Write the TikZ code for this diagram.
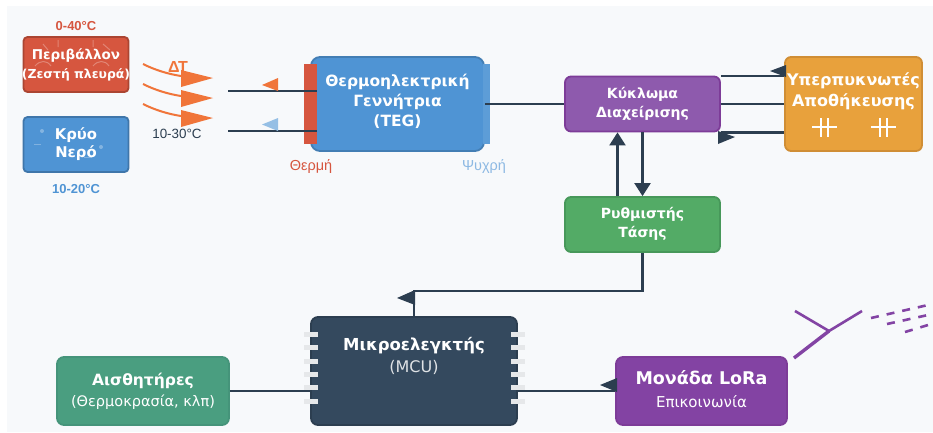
\documentclass[tikz,border=0pt]{standalone}
\usepackage{fontspec}
\setmainfont{DejaVu Sans}
\newfontfamily\plainfont{Liberation Sans}
\usetikzlibrary{positioning,arrows.meta,calc}

\definecolor{wire}{HTML}{2C3E50}
\definecolor{paper}{HTML}{F7F9FB}
\definecolor{heat}{HTML}{F0753A}
\definecolor{hotred}{HTML}{D6563F}
\definecolor{coldblue}{HTML}{4F94D4}
\definecolor{mgmtfill}{HTML}{8E5AAD}
\definecolor{mgmtedge}{HTML}{7D3C98}
\definecolor{superfill}{HTML}{E8A13C}
\definecolor{superedge}{HTML}{D08E35}
\definecolor{regfill}{HTML}{53AB66}
\definecolor{regedge}{HTML}{47985A}
\definecolor{mcufill}{HTML}{34495E}
\definecolor{sensfill}{HTML}{4A9E80}
\definecolor{sensedge}{HTML}{45947A}
\definecolor{lorafill}{HTML}{8343A3}
\definecolor{antenna}{HTML}{8344A4}

\tikzset{
    block/.style n args={3}{draw=#2, fill=#1, line width=1.8pt, rounded corners=#3,
        align=center, text=white, inner sep=0pt},
    bsize/.style n args={2}{minimum width=#1, minimum height=#2},
    wireline/.style={draw=wire, line width=2.2pt},
    bigarrow/.style={wireline, -{Triangle[length=13pt,width=16pt]}},
    tiptri/.style={fill=wire},
    heatline/.style={draw=heat, line width=2pt},
    pin/.style={fill=wire!12!white, minimum width=14pt, minimum height=5pt, inner sep=0pt},
    templabel/.style={font=\plainfont\bfseries\fontsize{13}{13}\selectfont},
    sidelabel/.style={font=\plainfont\fontsize{14.5}{14.5}\selectfont},
    capline/.style={draw=white, line width=2pt},
    faint/.style={draw=white, opacity=.28, line width=1pt},
    antline/.style={draw=antenna, line width=2.6pt},
    waves/.style={antline, dash pattern=on 8pt off 8pt}
}

\begin{document}
\begin{tikzpicture}[x=1pt,y=-1pt]
    \useasboundingbox (0,0) rectangle (933,432);
    \fill[paper] (7,6) rectangle (933,432);

    %% Heat sources
    \node[block={hotred}{hotred!80!black}{4pt}, bsize={105pt}{55pt},
        font=\bfseries\fontsize{13.5}{19}\selectfont] (env) at (76,64.5)
        {Περιβάλλον\\\makebox[95pt][c]{\fontsize{12.4}{19}\selectfont (Ζεστή πλευρά)}\\[-17pt]{}};
    \node[block={coldblue}{coldblue!80!black}{4pt}, bsize={105pt}{55pt},
        font=\bfseries\fontsize{14.8}{18}\selectfont] (cold) at (76,144.5)
        {Κρύο\\Νερό\\[-14pt]{}};
    \node[templabel, text=hotred, above=2pt of env] (envtemp) {0-40°C};
    \node[templabel, text=coldblue, below=8pt of cold] (coldtemp) {10-20°C};

    \draw[faint] (43,44) -- (48,50) (58,40) -- (58,47) (93,40) -- (93,47) (103,44) -- (110,50);
    \draw[faint] (35,66) .. controls (40,60) and (47,60) .. (51,66);
    \draw[faint] (93,66) .. controls (98,60) and (105,60) .. (109,66);
    \fill[white, opacity=.3] (42,131) circle (2pt) (101,147) circle (2pt) (60,150) circle (2pt);
    \draw[faint] (34,144) -- (41,144) (58,152) -- (65,152) (84,157) -- (92,157);

    %% Heat flow
    \foreach \yy in {0,20,40} {
        \draw[heatline] (143,64+\yy) .. controls (155,70+\yy) and (168,74+\yy) .. (181,76+\yy);
        \fill[heat] (181,70+\yy) -- (213,78+\yy) -- (181,87+\yy) -- cycle;
    }
    \node[font=\plainfont\bfseries\fontsize{16}{16}\selectfont, text=heat] (delta) at (178,67) {ΔΤ};
    \node[sidelabel, font=\plainfont\fontsize{13.4}{13.4}\selectfont, text=wire] (gradient) at (177,134) {10-30°C};

    %% Generator
    \fill[coldblue!92!white] (482,64) rectangle (490,144);
    \node[block={coldblue}{coldblue!85!black}{9pt}, bsize={173pt}{94pt},
        font=\bfseries\fontsize{15.5}{20}\selectfont] (teg) at (397.5,104)
        {Θερμοηλεκτρική\\Γεννήτρια\\(TEG)\\[-12.5pt]{}};
    \fill[coldblue!92!white] (483,64) rectangle (490,144);
    \node[fill=hotred, minimum width=13pt, minimum height=80pt, inner sep=0pt] (hotside) at (310.5,104) {};
    \node[sidelabel, text=hotred] (hotlabel) at (311,167) {Θερμή};
    \node[sidelabel, text=coldblue!65!white] (coldlabel) at (484,167) {Ψυχρή};

    \coordinate (hotin) at (228,91);
    \coordinate (coldin) at (228,131);
    \draw[wireline] (hotin) -- (hotin -| hotside.east);
    \draw[wireline] (coldin) -- (coldin -| hotside.east);
    \fill[heat] (262,85) -- (278,78) -- (278,91) -- cycle;
    \fill[coldblue!60!white] (262,124.5) -- (278,118) -- (278,131) -- cycle;

    %% Power path
    \node[block={mgmtfill}{mgmtedge}{6pt}, bsize={155pt}{55pt},
        font=\bfseries\fontsize{14}{18.5}\selectfont] (mgmt) at (642.5,104)
        {Κύκλωμα\\Διαχείρισης\\[-15pt]{}};
    \node[block={superfill}{superedge}{6pt}, bsize={137pt}{94pt},
        font=\bfseries\fontsize{16}{21}\selectfont] (super) at (853.5,104)
        {Υπερπυκνωτές\\Αποθήκευσης\\[8pt]{}};
    \node[block={regfill}{regedge}{6pt}, bsize={155pt}{55pt},
        font=\bfseries\fontsize{14}{19}\selectfont] (reg) at (642.5,224.5)
        {Ρυθμιστής\\Τάσης\\[-15pt]{}};

    \draw[wireline] (teg.east) -- (mgmt.west);
    \draw[wireline] (mgmt.east) -- (super.west);
    \draw[wireline] (mgmt.north east) -- (super.west |- mgmt.north east);
    \draw[wireline] (mgmt.south east) -- (super.west |- mgmt.south east);
    \fill[tiptri] (770,71) -- (786,65) -- (786,77) -- cycle;
    \fill[tiptri] (718,131) -- (735,137) -- (718,144) -- cycle;
    \draw[bigarrow] ([xshift=-25pt]reg.north) -- ([xshift=-25pt]mgmt.south);
    \draw[bigarrow] (mgmt.south) -- (reg.north);

    %% Capacitors
    \foreach \xx in {812,871} {
        \draw[capline] (\xx,127) -- (\xx+25,127);
        \draw[capline] (\xx+9,118) -- (\xx+9,137) (\xx+16,118) -- (\xx+16,137);
    }

    %% Bottom row
    \node[block={mcufill}{wire}{7pt}, bsize={206pt}{108pt}] (mcu) at (414,371) {};
    \foreach \yy in {334,347,361,374,387,401} {
        \node[pin] (pinl\yy) at (311,\yy) {};
        \node[pin] (pinr\yy) at (517.5,\yy) {};
    }
    \node[text=white, font=\bfseries\fontsize{16.5}{16.5}\selectfont] (mcutitle) at (414,346) {Μικροελεγκτής};
    \node[text=white!85!wire, font=\fontsize{16}{16}\selectfont] (mcusub) at (414,367) {(MCU)};

    \node[block={sensfill}{sensedge}{7pt}, bsize={172pt}{68pt},
        font=\bfseries\fontsize{15.5}{21}\selectfont] (sensors) at (143,391)
        {Αισθητήρες\\\mdseries\fontsize{14.5}{21}\selectfont (Θερμοκρασία, κλπ)};
    \node[block={lorafill}{mgmtedge}{7pt}, bsize={171pt}{68pt},
        font=\bfseries\fontsize{17.5}{23}\selectfont] (lora) at (701.5,391)
        {Μονάδα LoRa\\\mdseries\fontsize{15}{23}\selectfont Επικοινωνία\\[-19pt]{}};

    \draw[wireline] (sensors.east) -- (mcu.west |- sensors.east);
    \draw[wireline] (lora.west) -- (mcu.east |- lora.west);
    \fill[tiptri] (600,385) -- (617,378) -- (617,392) -- cycle;
    \draw[wireline] (reg.south) |- (414,291) -- (mcu.north);
    \fill[tiptri] (397,298) -- (415,290) -- (415,305) -- cycle;

    %% Antenna
    \coordinate (joint) at (829,331);
    \draw[antline, line width=3.4pt] (794,358) -- (joint);
    \draw[antline] (795,311) -- (joint) -- (862,311);
    \draw[waves] (871,318) -- (928,305);
    \draw[waves] (887,324) -- (928,315);
    \draw[waves] (905,332) -- (928,325);
\end{tikzpicture}
\end{document}
